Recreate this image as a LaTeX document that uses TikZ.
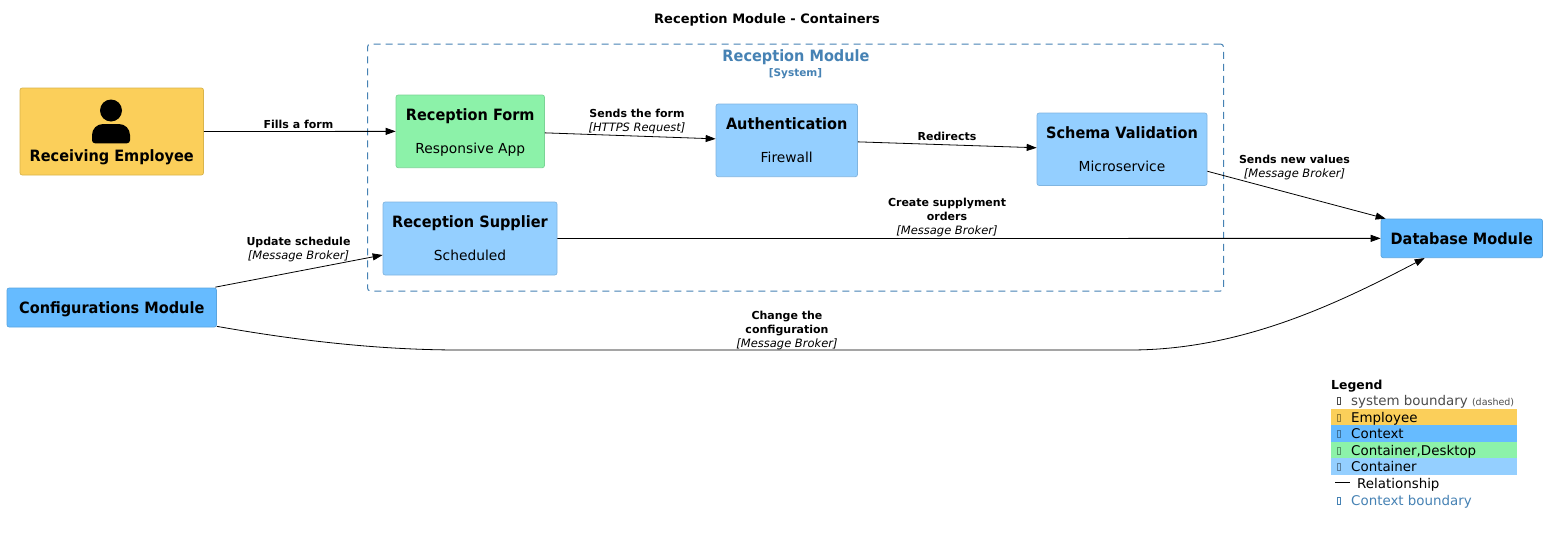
\documentclass[tikz,border=0pt]{standalone}
\usepackage{fontspec}
\setmainfont{DejaVu Sans}
\newfontfamily\ttlface[FakeStretch=0.93]{DejaVu Sans}
\usetikzlibrary{arrows.meta,calc}
\newcommand{\fsz}[1]{\fontsize{#1}{#1}\selectfont}
\newcommand{\lb}[1]{{\fsz{11}\bfseries\rule[-3pt]{0pt}{13pt}#1}}
\newcommand{\lt}[1]{{\fsz{11.5}\itshape\rule[-3pt]{0pt}{13pt}#1}}
\definecolor{empF}{HTML}{FBCF5A}\definecolor{empD}{HTML}{D9B44A}
\definecolor{ctxF}{HTML}{66BBFF}\definecolor{ctxD}{HTML}{5AA5E0}
\definecolor{grnF}{HTML}{8CF2A9}\definecolor{grnD}{HTML}{7AD495}
\definecolor{conF}{HTML}{94CFFF}\definecolor{conD}{HTML}{80B5E0}
\definecolor{bnd}{HTML}{4682B4}
\tikzset{
  boxbase/.style={rounded corners=2.2pt,inner sep=0pt,align=center,line width=.7pt},
  empbox/.style={boxbase,fill=empF,draw=empD},
  ctxbox/.style={boxbase,fill=ctxF,draw=ctxD},
  grnbox/.style={boxbase,fill=grnF,draw=grnD},
  conbox/.style={boxbase,fill=conF,draw=conD},
  rel/.style={draw=black,line width=.8pt,-{Triangle[length=10pt,width=7pt]}},
  rlabel/.style={align=center,inner sep=0pt},
  ttltext/.style={inner sep=0pt,anchor=base,font=\ttlface\fsz{15.6}\bfseries},
  subtext/.style={inner sep=0pt,anchor=base,font=\fsz{13.8}},
  legbar/.style={inner sep=0pt,minimum width=186pt,minimum height=16.5pt,anchor=west},
  legtext/.style={inner sep=0pt,anchor=base west,font=\fsz{13.4}},
  tofu/.style={draw=#1,line width=.5pt,inner sep=0pt,minimum width=2.6pt,minimum height=7pt},
}
\begin{document}
\begin{tikzpicture}[x=1pt,y=-1pt]
\useasboundingbox (0,0) rectangle (1547,533);
\fill[white] (0,0) rectangle (1547,533);
\node[inner sep=0pt] (title) at (767,19.5) {\fsz{13}\bfseries Reception Module - Containers};
% boundary
\node[draw=bnd,dash pattern=on 7pt off 5pt,line width=1pt,rounded corners=3pt,inner sep=0pt,minimum width=856pt,minimum height=247pt] (boundary) at (795.5,167.5) {};
\node[inner sep=0pt,text=bnd] (bt) at (796,57) {\ttlface\fsz{15.6}\bfseries Reception Module};
\node[inner sep=0pt,text=bnd] (bs) at (795.5,73.5) {\fsz{10.5}\bfseries [System]};
% boxes
\node[empbox,minimum width=183.5pt,minimum height=87pt] (emp) at (111.75,131.5) {};
\fill (111,110.5) circle (11);
\fill (95,143.3) arc (270:180:3pt) -- (92,135) arc (180:90:11pt) -- (119,124) arc (90:0:11pt) -- (130,140.3) arc (0:-90:3pt) -- cycle;
\node[ttltext] (empt) at (111.75,161.7) {Receiving Employee};
\node[ctxbox,minimum width=209.5pt,minimum height=39pt] (config) at (111.75,307.5) {};
\node[ttltext] (configt) at ($(config.center)+(0,5.7)$) {Configurations Module};
\node[ctxbox,minimum width=161.5pt,minimum height=38.7pt] (db) at (1461.75,238.35) {};
\node[ttltext] (dbt) at ($(db.center)+(0,5.7)$) {Database Module};
\node[grnbox,minimum width=148.5pt,minimum height=72.7pt] (form) at (470.25,131.35) {};
\node[ttltext] (formt) at ($(form.north)+(0,26.2)$) {Reception Form};
\node[subtext] (forms) at ($(form.north)+(0,59)$) {Responsive App};
\node[conbox,minimum width=141.5pt,minimum height=72.7pt] (auth) at (786.75,140.35) {};
\node[ttltext] (autht) at ($(auth.north)+(0,26.2)$) {Authentication};
\node[subtext] (auths) at ($(auth.north)+(0,59)$) {Firewall};
\node[conbox,minimum width=170pt,minimum height=72.5pt] (schema) at (1122,149.25) {};
\node[ttltext] (schemat) at ($(schema.north)+(0,26.2)$) {Schema Validation};
\node[subtext] (schemas) at ($(schema.north)+(0,59)$) {Microservice};
\node[conbox,minimum width=174pt,minimum height=73pt] (supplier) at (470,238.5) {};
\node[ttltext] (suppliert) at ($(supplier.north)+(0,26.2)$) {Reception Supplier};
\node[subtext] (suppliers) at ($(supplier.north)+(0,59)$) {Scheduled};
% connectors
\draw[rel] (emp.east) -- (form.west);
\draw[rel] ($(form.east)+(0,1.5)$) -- ($(auth.west)+(0,-1.5)$);
\draw[rel] ($(auth.east)+(0,1.5)$) -- ($(schema.west)+(0,-1.5)$);
\draw[rel] ($(schema.east)+(0,22)$) -- ($(db.north west)+(5,0)$);
\draw[rel] (supplier.east) -- (db.west);
\draw[rel] ($(config.north east)+(-1.5,-0.5)$) -- ($(supplier.west)+(0,16.5)$);
\draw[rel] ($(config.south east)+(0,-1)$) .. controls (300,341) and (380,350) .. (460,350) -- (1130,350) .. controls (1240,350) and (1335,305) .. ($(db.south west)+(44,0)$);
% labels
\node[rlabel] (l1) at (298.5,124.8) {\lb{Fills a form}};
\node[rlabel] (l2) at (637,120.8) {\lb{Sends the form}\\\lt{[HTTPS Request]}};
\node[rlabel] (l3) at (947,137) {\lb{Redirects}};
\node[rlabel] (l4) at (1294.5,166.8) {\lb{Sends new values}\\\lt{[Message Broker]}};
\node[rlabel] (l5) at (947,217) {\lb{Create supplyment}\\\lb{orders}\\\lt{[Message Broker]}};
\node[rlabel] (l6) at (298.5,249.2) {\lb{Update schedule}\\\lt{[Message Broker]}};
\node[rlabel] (l7) at (787,329.5) {\lb{Change the}\\\lb{configuration}\\\lt{[Message Broker]}};
% legend
\node[inner sep=0pt,anchor=base west] (lgt) at (1331,389) {\fsz{12.4}\bfseries Legend};
\node[legbar,fill=empF] (lb1) at (1331,417) {};
\node[legbar,fill=ctxF] (lb2) at (1331,433.3) {};
\node[legbar,fill=grnF] (lb3) at (1331,449.8) {};
\node[legbar,fill=conF] (lb4) at (1331,466.4) {};
\node[tofu=black!70] (tf0) at (1339,401) {};
\node[tofu=empD!70!black] (tf1) at (1339,417.5) {};
\node[tofu=ctxD!70!black] (tf2) at (1339,434) {};
\node[tofu=grnD!70!black] (tf3) at (1339,450.5) {};
\node[tofu=conD!70!black] (tf4) at (1339,467) {};
\node[tofu=bnd] (tf5) at (1339,500.5) {};
\node[legtext,text=black!70] (t0) at (1351,405.5) {system boundary {\fsz{9.5}(dashed)}};
\node[legtext] (t1) at (1351,422) {Employee};
\node[legtext] (t2) at (1351,438.5) {Context};
\node[legtext] (t3) at (1351,455) {Container,Desktop};
\node[legtext] (t4) at (1351,471.5) {Container};
\coordinate (rs) at (1335,482);
\coordinate (re) at (1350,482);
\draw[line width=.8pt] (rs) -- (re);
\node[legtext] (t5) at (1357,488) {Relationship};
\node[legtext,text=bnd] (t6) at (1351,505) {Context boundary};
\end{tikzpicture}
\end{document}
